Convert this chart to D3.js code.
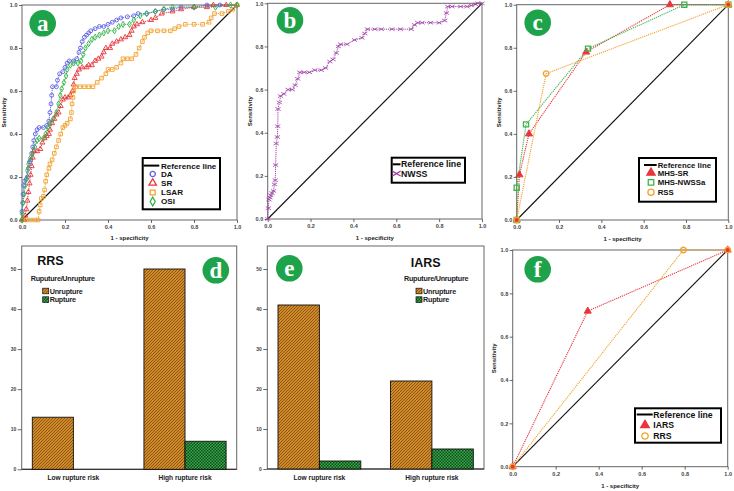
<!DOCTYPE html>
<html><head><meta charset="utf-8">
<script src="https://cdnjs.cloudflare.com/ajax/libs/d3/7.8.5/d3.min.js"></script>
<style>body{margin:0;background:#fff}svg{display:block;font-family:"Liberation Sans",Arial,sans-serif}</style>
</head><body><svg id="chart" width="734" height="491"></svg>
<script>
// ---------------- DATA ----------------
const rocTicks = [0, 0.2, 0.4, 0.6, 0.8, 1.0];
const rocTickLabels = ["0.0", "0.2", "0.4", "0.6", "0.8", "1.0"];
const xTitle = "1 - specificity";
const yTitle = "Sensitivity";
const refLabel = "Reference line";

// Panel a
const daPoints = [[0,0],[0,0.04],[0.003,0.08],[0.005,0.12],[0.008,0.16],[0.012,0.18],[0.02,0.19],[0.025,0.2],[0.03,0.24],[0.035,0.27],[0.04,0.28],[0.045,0.31],[0.05,0.34],[0.055,0.37],[0.062,0.4],[0.07,0.42],[0.08,0.43],[0.1,0.43],[0.115,0.44],[0.125,0.46],[0.13,0.5],[0.135,0.54],[0.138,0.58],[0.142,0.62],[0.16,0.62],[0.165,0.65],[0.175,0.68],[0.19,0.69],[0.2,0.71],[0.21,0.73],[0.22,0.74],[0.24,0.74],[0.255,0.75],[0.265,0.78],[0.272,0.8],[0.28,0.83],[0.29,0.85],[0.3,0.86],[0.31,0.87],[0.32,0.88],[0.34,0.89],[0.36,0.9],[0.38,0.9],[0.4,0.91],[0.42,0.92],[0.44,0.93],[0.46,0.94],[0.49,0.945],[0.52,0.95],[0.54,0.96],[0.58,0.96],[0.62,0.97],[0.66,0.98],[0.7,0.98],[0.74,0.99],[0.8,0.99],[0.86,1],[0.92,1],[1,1]];
const srPoints = [[0,0],[0.01,0],[0.015,0.02],[0.02,0.05],[0.025,0.09],[0.03,0.13],[0.035,0.17],[0.04,0.21],[0.045,0.25],[0.05,0.29],[0.055,0.32],[0.07,0.32],[0.085,0.33],[0.095,0.36],[0.105,0.38],[0.115,0.39],[0.125,0.4],[0.13,0.42],[0.14,0.45],[0.15,0.47],[0.16,0.49],[0.17,0.5],[0.18,0.53],[0.19,0.56],[0.2,0.57],[0.215,0.57],[0.225,0.58],[0.235,0.6],[0.24,0.63],[0.245,0.66],[0.255,0.68],[0.265,0.7],[0.28,0.71],[0.3,0.71],[0.31,0.72],[0.325,0.72],[0.34,0.74],[0.355,0.75],[0.37,0.76],[0.38,0.78],[0.39,0.8],[0.41,0.8],[0.42,0.82],[0.44,0.83],[0.46,0.84],[0.48,0.85],[0.5,0.86],[0.51,0.88],[0.52,0.9],[0.535,0.91],[0.56,0.92],[0.6,0.93],[0.62,0.94],[0.65,0.96],[0.7,0.97],[0.74,0.98],[0.8,0.99],[0.86,0.99],[0.89,1],[0.95,1],[1,1]];
const lsarPoints = [[0,0],[0.02,0],[0.04,0],[0.06,0],[0.075,0],[0.08,0.04],[0.085,0.07],[0.09,0.1],[0.1,0.11],[0.105,0.14],[0.11,0.18],[0.115,0.21],[0.125,0.24],[0.13,0.26],[0.14,0.28],[0.15,0.31],[0.16,0.34],[0.17,0.37],[0.18,0.4],[0.19,0.43],[0.2,0.44],[0.21,0.45],[0.225,0.47],[0.23,0.5],[0.233,0.54],[0.237,0.57],[0.24,0.6],[0.25,0.62],[0.27,0.62],[0.29,0.62],[0.31,0.62],[0.33,0.62],[0.35,0.64],[0.37,0.66],[0.39,0.68],[0.4,0.7],[0.42,0.7],[0.44,0.71],[0.46,0.73],[0.47,0.75],[0.49,0.75],[0.51,0.75],[0.53,0.77],[0.545,0.8],[0.56,0.83],[0.57,0.85],[0.585,0.87],[0.6,0.88],[0.63,0.88],[0.66,0.88],[0.69,0.88],[0.71,0.89],[0.73,0.9],[0.76,0.91],[0.8,0.91],[0.84,0.91],[0.87,0.92],[0.88,0.94],[0.895,0.96],[0.93,0.96],[0.96,0.97],[0.98,0.98],[1,1]];
const osiPoints = [[0,0],[0,0.03],[0.005,0.08],[0.01,0.12],[0.015,0.16],[0.02,0.19],[0.025,0.23],[0.03,0.26],[0.04,0.29],[0.05,0.31],[0.06,0.34],[0.07,0.37],[0.08,0.38],[0.1,0.38],[0.11,0.4],[0.12,0.43],[0.13,0.45],[0.145,0.47],[0.16,0.5],[0.17,0.54],[0.178,0.58],[0.185,0.61],[0.195,0.64],[0.205,0.67],[0.21,0.7],[0.225,0.72],[0.24,0.73],[0.26,0.73],[0.275,0.74],[0.285,0.77],[0.295,0.8],[0.31,0.82],[0.325,0.84],[0.34,0.85],[0.36,0.86],[0.38,0.87],[0.4,0.88],[0.43,0.88],[0.45,0.9],[0.47,0.91],[0.5,0.91],[0.52,0.93],[0.55,0.95],[0.58,0.96],[0.62,0.97],[0.66,0.98],[0.7,0.99],[0.8,0.99],[0.9,0.99],[0.97,1],[1,1]];
// Panel b
const nwssPoints = [[0,0],[0.003,0.05],[0.006,0.09],[0.01,0.1],[0.015,0.11],[0.02,0.12],[0.027,0.13],[0.032,0.16],[0.035,0.18],[0.037,0.25],[0.04,0.35],[0.045,0.38],[0.047,0.43],[0.048,0.51],[0.055,0.54],[0.06,0.57],[0.075,0.58],[0.095,0.6],[0.115,0.6],[0.128,0.62],[0.14,0.65],[0.15,0.68],[0.17,0.68],[0.195,0.68],[0.22,0.69],[0.25,0.69],[0.27,0.7],[0.29,0.73],[0.305,0.74],[0.32,0.77],[0.33,0.8],[0.34,0.81],[0.37,0.81],[0.405,0.83],[0.44,0.84],[0.453,0.86],[0.465,0.88],[0.5,0.88],[0.53,0.88],[0.58,0.88],[0.62,0.88],[0.67,0.88],[0.685,0.9],[0.7,0.91],[0.72,0.91],[0.76,0.91],[0.8,0.91],[0.826,0.92],[0.834,0.955],[0.84,0.985],[0.86,0.985],[0.9,0.985],[0.93,0.985],[0.95,0.99],[0.97,0.995],[0.98,1],[1,1]];
// Panel c
const mhsSrPoints = [[0,0],[0.013,0.21],[0.058,0.40],[0.328,0.78],[0.724,1.0],[1,1]];
const mhsNwssaPoints = [[0,0],[0,0.15],[0.044,0.444],[0.337,0.796],[0.792,1.0],[1,1]];
const rssPoints = [[0,0],[0.139,0.68],[1,1]];
// Panel f
const iarsPoints = [[0,0],[0.349,0.718],[1,1]];
const rrsPoints = [[0,0],[0.794,1.0],[1,1]];

// Panels d, e
const barCategories = ["Low rupture risk", "High rupture risk"];
const barGroups = ["Unrupture", "Rupture"];
const barLegendTitle = "Ruputure/Unrupture";
const rrsUnrupture = [13, 50];
const rrsRupture = [0, 7];
const iarsUnrupture = [41, 22];
const iarsRupture = [2, 5];
const barTicks = [0, 10, 20, 30, 40, 50];

// ---------------- DRAWING ----------------
const svg = d3.select("#chart");
svg.append("rect").attr("width", 734).attr("height", 491).attr("fill", "#fff");
const defs = svg.append("defs");
const pu = defs.append("pattern").attr("id", "patU").attr("width", 3).attr("height", 3).attr("patternUnits", "userSpaceOnUse");
pu.append("rect").attr("width", 3).attr("height", 3).attr("fill", "#d08a2a");
pu.append("path").attr("d", "M-1,1 L1,-1 M0,3 L3,0 M2,4 L4,2").attr("stroke", "#7e4a0e").attr("stroke-width", 0.8);
const pr = defs.append("pattern").attr("id", "patR").attr("width", 3).attr("height", 3).attr("patternUnits", "userSpaceOnUse");
pr.append("rect").attr("width", 3).attr("height", 3).attr("fill", "#3aa84c");
pr.append("rect").attr("width", 1.5).attr("height", 1.5).attr("fill", "#0d4d1a");
pr.append("rect").attr("x", 1.5).attr("y", 1.5).attr("width", 1.5).attr("height", 1.5).attr("fill", "#0d4d1a");

const xMark = {draw(ctx, size) { const w = Math.sqrt(size) * 0.75, h = w * 0.6; ctx.moveTo(-w, -h); ctx.lineTo(w, h); ctx.moveTo(-w, h); ctx.lineTo(w, -h); }};

function styleAxis(g, fs) {
  g.select(".domain").remove();
  g.selectAll(".tick line").attr("stroke", "#444").attr("stroke-width", 0.8);
  g.selectAll(".tick text").attr("font-size", fs).attr("font-weight", "bold").attr("fill", "#444").attr("font-family", "Liberation Sans, Arial, sans-serif");
}

function badge(cx, cy, letter) {
  svg.append("circle").attr("cx", cx).attr("cy", cy).attr("r", 13.3).attr("fill", "#1ea34b");
  svg.append("text").attr("x", cx).attr("y", cy + 7.2).attr("text-anchor", "middle")
    .attr("font-family", "Liberation Serif, Times New Roman, serif").attr("font-weight", "bold")
    .attr("font-size", 23).attr("fill", "#fff").text(letter);
}

function rocPanel(cfg) {
  const x = d3.scaleLinear().domain([0, 1]).range([cfg.x0, cfg.x1]);
  const y = d3.scaleLinear().domain([0, 1]).range([cfg.y1, cfg.y0]);
  const g = svg.append("g");
  g.append("rect").attr("x", cfg.x0).attr("y", cfg.y0).attr("width", cfg.x1 - cfg.x0).attr("height", cfg.y1 - cfg.y0)
    .attr("fill", "#fff").attr("stroke", "#666").attr("stroke-width", 1);
  const xa = g.append("g").attr("transform", `translate(0,${cfg.y1})`)
    .call(d3.axisBottom(x).tickValues(rocTicks).tickFormat((d, i) => rocTickLabels[i]).tickSize(3).tickPadding(2));
  styleAxis(xa, 5.5);
  const ya = g.append("g").attr("transform", `translate(${cfg.x0},0)`)
    .call(d3.axisLeft(y).tickValues(rocTicks).tickFormat((d, i) => rocTickLabels[i]).tickSize(3).tickPadding(1.5));
  styleAxis(ya, 5.5);
  ya.selectAll(".tick text").attr("dy", "0.35em");
  g.append("text").attr("x", (cfg.x0 + cfg.x1) / 2).attr("y", cfg.xTitleY).attr("text-anchor", "middle")
    .attr("font-size", 6).attr("font-weight", "bold").attr("fill", "#222").text(xTitle);
  g.append("text").attr("transform", `translate(${cfg.yTitleX},${(cfg.y0 + cfg.y1) / 2}) rotate(-90)`)
    .attr("text-anchor", "middle").attr("dy", "0.35em")
    .attr("font-size", 6).attr("font-weight", "bold").attr("fill", "#222").text(yTitle);
  // reference line
  g.append("line").attr("x1", x(0)).attr("y1", y(0)).attr("x2", x(1)).attr("y2", y(1))
    .attr("stroke", "#111").attr("stroke-width", 1.1);
  cfg.series.forEach(s => {
    g.append("path").datum(s.data).attr("d", d3.line().x(d => x(d[0])).y(d => y(d[1])))
      .attr("fill", "none").attr("stroke", s.color).attr("stroke-width", s.lw || 1).attr("stroke-dasharray", "1.2,0.9");
  });
  cfg.series.forEach(s => {
    g.selectAll(null).data(s.data).join("path")
      .attr("transform", d => `translate(${x(d[0])},${y(d[1])})`)
      .attr("d", d3.symbol(s.symbol, s.size)())
      .attr("fill", s.filled ? s.color : "none")
      .attr("stroke", s.color).attr("stroke-width", s.sw || 0.9);
  });
  // legend
  const L = cfg.legend;
  g.append("rect").attr("x", L.x0).attr("y", L.y0).attr("width", L.x1 - L.x0).attr("height", L.y1 - L.y0)
    .attr("fill", "#fff").attr("stroke", "#000").attr("stroke-width", 2);
  g.append("line").attr("x1", L.lx0).attr("x2", L.lx1).attr("y1", L.ys[0]).attr("y2", L.ys[0])
    .attr("stroke", "#000").attr("stroke-width", 2);
  g.append("text").attr("x", L.tx).attr("y", L.ys[0]).attr("dy", "0.36em").attr("font-size", L.fs)
    .attr("font-weight", "bold").attr("fill", "#111").text(refLabel);
  cfg.series.forEach((s, i) => {
    const yy = L.ys[i + 1];
    g.append("path").attr("transform", `translate(${L.mx},${yy})`)
      .attr("d", d3.symbol(s.symbol, s.legendSize || s.size * 2)())
      .attr("fill", s.filled ? s.color : "none").attr("stroke", s.color).attr("stroke-width", s.legendSw || 1.3);
    g.append("text").attr("x", L.tx).attr("y", yy).attr("dy", "0.36em").attr("font-size", L.fs)
      .attr("font-weight", "bold").attr("fill", "#111").text(s.name);
  });
}

function barPanel(cfg) {
  const x0 = d3.scaleBand().domain(barCategories).range([cfg.x0, cfg.x1]).paddingInner(0.264).paddingOuter(0.095);
  const x1 = d3.scaleBand().domain(barGroups).range([0, x0.bandwidth()]);
  const y = d3.scaleLinear().domain([0, 50]).range([cfg.y1, cfg.y50]);
  const g = svg.append("g");
  g.append("rect").attr("x", cfg.x0).attr("y", cfg.y0).attr("width", cfg.x1 - cfg.x0).attr("height", cfg.y1 - cfg.y0)
    .attr("fill", "#fff").attr("stroke", "#666").attr("stroke-width", 1);
  g.append("line").attr("x1", cfg.x0).attr("x2", cfg.x1).attr("y1", cfg.y1).attr("y2", cfg.y1).attr("stroke", "#222");
  const ya = g.append("g").attr("transform", `translate(${cfg.x0},0)`)
    .call(d3.axisLeft(y).tickValues(barTicks).tickSize(4).tickPadding(1.5));
  styleAxis(ya, 5);
  const xa = g.append("g").attr("transform", `translate(0,${cfg.y1})`)
    .call(d3.axisBottom(x0).tickSize(0).tickPadding(6));
  xa.select(".domain").remove();
  xa.selectAll(".tick text").attr("font-size", 6.6).attr("font-weight", "bold").attr("fill", "#222");
  const rows = barCategories.map((c, i) => ({cat: c, vals: [cfg.unr[i], cfg.rup[i]]}));
  rows.forEach(r => {
    r.vals.forEach((v, j) => {
      if (v <= 0) return;
      g.append("rect").attr("x", x0(r.cat) + x1(barGroups[j])).attr("width", x1.bandwidth())
        .attr("y", y(v)).attr("height", y(0) - y(v))
        .attr("fill", j === 0 ? "url(#patU)" : "url(#patR)").attr("stroke", "#111").attr("stroke-width", 0.9);
    });
  });
  // titles / legend
  g.append("text").attr("x", cfg.titleX).attr("y", cfg.titleY).attr("font-size", 12.5).attr("font-weight", "bold")
    .attr("fill", "#111").text(cfg.title);
  g.append("text").attr("x", cfg.legTitleX).attr("y", 281).attr("font-size", 7.2).attr("fill", "#222")
    .attr("font-weight", "bold").attr("letter-spacing", -0.25).text(barLegendTitle);
  barGroups.forEach((b, j) => {
    const yy = 291 + j * 8.6;
    g.append("rect").attr("x", cfg.swX).attr("y", yy - 2.8).attr("width", 6).attr("height", 5.6)
      .attr("fill", j === 0 ? "url(#patU)" : "url(#patR)").attr("stroke", "#111").attr("stroke-width", 0.7);
    g.append("text").attr("x", cfg.swX + 7).attr("y", yy).attr("dy", "0.36em").attr("font-size", 7.2)
      .attr("font-weight", "bold").attr("letter-spacing", -0.2).attr("fill", "#222").text(b);
  });
}

// Panel a
rocPanel({x0: 22, x1: 237, y0: 5, y1: 220, xTitleY: 239.5, yTitleX: 4,
  series: [
    {name: "DA", data: daPoints, color: "#5f5fe8", symbol: d3.symbolCircle, size: 12, legendSize: 22},
    {name: "SR", data: srPoints, color: "#e8353b", symbol: d3.symbolTriangle, size: 11, legendSize: 24},
    {name: "LSAR", data: lsarPoints, color: "#f3a22c", symbol: d3.symbolSquare, size: 13, legendSize: 24},
    {name: "OSI", data: osiPoints, color: "#34b34a", symbol: d3.symbolDiamond, size: 11, legendSize: 22}
  ],
  legend: {x0: 142.7, x1: 220, y0: 158, y1: 209.3, lx0: 143.5, lx1: 159.3, mx: 152.7, tx: 161, fs: 8.1, ys: [165.6, 174, 183, 192.5, 201.5]}
});
// Panel b
rocPanel({x0: 267.7, x1: 482, y0: 3.3, y1: 219, xTitleY: 239.5, yTitleX: 250.3,
  series: [
    {name: "NWSS", data: nwssPoints, color: "#a040a8", symbol: xMark, size: 12, legendSize: 30, sw: 0.8}
  ],
  legend: {x0: 391.7, x1: 465, y0: 157.7, y1: 182.7, lx0: 392.7, lx1: 400.5, mx: 396.5, tx: 401, fs: 8.8, ys: [164.3, 173.6]}
});
// Panel c
rocPanel({x0: 516.7, x1: 728.3, y0: 4.7, y1: 220, xTitleY: 240.5, yTitleX: 499.3,
  series: [
    {name: "MHS-SR", data: mhsSrPoints, color: "#e8353b", symbol: d3.symbolTriangle, size: 22, filled: true, legendSize: 30, lw: 1.1},
    {name: "MHS-NWSSa", data: mhsNwssaPoints, color: "#3cb44b", symbol: d3.symbolSquare, size: 26, legendSize: 30, sw: 1.3, lw: 1.1},
    {name: "RSS", data: rssPoints, color: "#f3a22c", symbol: d3.symbolCircle, size: 24, legendSize: 30, sw: 1.4, lw: 1.1}
  ],
  legend: {x0: 639, x1: 716, y0: 158, y1: 201.7, lx0: 644, lx1: 656.7, mx: 651, tx: 657.7, fs: 7.8, ys: [165, 172.8, 182.4, 192.3]}
});
// Panel f
rocPanel({x0: 512.7, x1: 727.7, y0: 250, y1: 466.7, xTitleY: 488, yTitleX: 494,
  series: [
    {name: "IARS", data: iarsPoints, color: "#e8353b", symbol: d3.symbolTriangle, size: 22, filled: true, legendSize: 32, lw: 1.1},
    {name: "RRS", data: rrsPoints, color: "#f3a22c", symbol: d3.symbolCircle, size: 24, legendSize: 32, sw: 1.4, lw: 1.1}
  ],
  legend: {x0: 635, x1: 721, y0: 408.3, y1: 442.7, lx0: 636.7, lx1: 652.7, mx: 645, tx: 653.3, fs: 8.7, ys: [414.5, 425.2, 436]}
});
// Panel d
barPanel({x0: 21.7, x1: 236.7, y0: 246, y1: 469.3, y50: 269, unr: rrsUnrupture, rup: rrsRupture,
  title: "RRS", titleX: 37.3, titleY: 264.5, legTitleX: 30.7, swX: 42.7});
// Panel e
barPanel({x0: 267.3, x1: 484, y0: 246, y1: 469, y50: 269, unr: iarsUnrupture, rup: iarsRupture,
  title: "IARS", titleX: 410.7, titleY: 266.7, legTitleX: 404, swX: 416});

badge(42.7, 23.3, "a");
badge(290, 20.3, "b");
badge(537.7, 22.7, "c");
badge(215.8, 270.3, "d");
badge(289.3, 268.3, "e");
badge(537.7, 269.3, "f");
</script>
</body></html>
